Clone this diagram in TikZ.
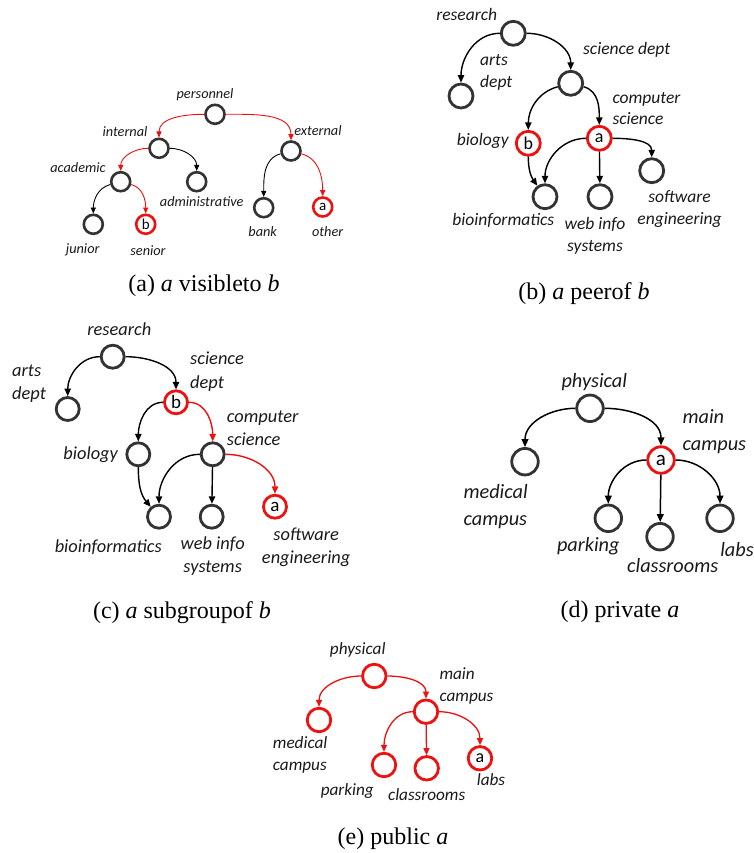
\documentclass[tikz,border=0pt]{standalone}
\usepackage{fontspec}
\setmainfont{Carlito}
\newfontfamily\capfont{Liberation Serif}
\usetikzlibrary{arrows.meta}
\definecolor{ink}{HTML}{333333}
\definecolor{txt}{HTML}{1A1A1A}
\definecolor{hot}{HTML}{EE1111}

\begin{document}
\begin{tikzpicture}[x=1pt,y=-1pt,
  vtx/.style={circle,draw=ink,line width=2.8pt,inner sep=0pt,text=black},
  hotv/.style={vtx,draw=hot},
  lbl/.style={text=txt,inner sep=0pt,align=center},
  arrowtip/.style={-{Triangle[length=#1,width=0.85*#1]}},
  captxt/.style={inner sep=0pt,font=\capfont\fontsize{24}{27}\selectfont},
  % per-panel sizes
  vA/.style={minimum size=19pt,line width=2.6pt,font=\fontsize{15}{17}\selectfont},
  vB/.style={minimum size=24pt,font=\fontsize{18}{20}\selectfont},
  vC/.style={minimum size=23pt,font=\fontsize{19}{21}\selectfont},
  vD/.style={minimum size=26.5pt,font=\fontsize{21}{23}\selectfont},
  vE/.style={minimum size=23.5pt,font=\fontsize{18}{20}\selectfont},
  lA/.style={lbl,font=\fontsize{14.3}{17}\selectfont\itshape},
  lB/.style={lbl,font=\fontsize{17.5}{21.5}\selectfont\itshape},
  lC/.style={lbl,font=\fontsize{18.4}{23.3}\selectfont\itshape},
  lD/.style={lbl,font=\fontsize{20.3}{26.5}\selectfont\itshape},
  lE/.style={lbl,font=\fontsize{17.2}{21.7}\selectfont\itshape},
  eA/.style={arrowtip=6pt,line width=0.9pt,draw=black},
  eB/.style={arrowtip=7.5pt,line width=1.4pt,draw=black},
  eD/.style={arrowtip=8pt,line width=1.5pt,draw=black},
  eE/.style={arrowtip=7pt,line width=1.3pt,draw=black},
  hotline/.style={draw=hot}
]
\useasboundingbox (0,0) rectangle (754,853);

% ---------- (a) visibleto ----------
\node[vtx,vA]  (aper)  at (215,114.3) {};
\node[vtx,vA]  (aint)  at (159,148.3) {};
\node[vtx,vA]  (aext)  at (291,151) {};
\node[vtx,vA]  (aacad) at (120.7,181.7) {};
\node[vtx,vA]  (aadm)  at (196.7,181.7) {};
\node[vtx,vA]  (ajun)  at (93.3,224.3) {};
\node[hotv,vA] (asen)  at (145.7,224.3) {b};
\node[vtx,vA]  (abank) at (263.7,207.7) {};
\node[hotv,vA] (aoth)  at (322.7,207) {a};
\node[lA] (laper)  at (205,95) {personnel};
\node[lA] (laint)  at (125,132) {internal};
\node[lA] (laext)  at (318,131) {external};
\node[lA] (laacad) at (78,168) {academic};
\node[lA] (laadm)  at (201.7,201.7) {administrative};
\node[lA] (lajun)  at (82.7,250) {junior};
\node[lA] (lasen)  at (148,250.7) {senior};
\node[lA] (labank) at (262.7,231.7) {bank};
\node[lA] (laoth)  at (327.7,231.7) {other};
\draw[eA,hotline] (aper) to[out=180,in=90] (aint);
\draw[eA,hotline] (aper) to[out=0,in=90] (aext);
\draw[eA,hotline] (aint) to[out=180,in=90] (aacad);
\draw[eA] (aint) to[out=0,in=90] (aadm);
\draw[eA] (aacad) to[out=195,in=90] (ajun);
\draw[eA,hotline] (aacad) to[out=-15,in=90] (asen);
\draw[eA] (aext) to[out=195,in=90] (abank);
\draw[eA,hotline] (aext) to[out=-15,in=90] (aoth);
\node[captxt] (capa) at (204,286) {(a) \textit{a} visibleto \textit{b}};

% ---------- (b) peerof ----------
\node[vtx,vB]  (bres)  at (513.3,33.3) {};
\node[vtx,vB]  (barts) at (461,96) {};
\node[vtx,vB]  (bsci)  at (570.7,83.3) {};
\node[hotv,vB] (bbio)  at (528.3,143.3) {b};
\node[hotv,vB] (bcs)   at (599.3,138.3) {a};
\node[vtx,vB]  (bbinf) at (545,196.7) {};
\node[vtx,vB]  (bweb)  at (600,196.7) {};
\node[vtx,vB]  (bsw)   at (651.7,170.7) {};
\node[lB] (lbres)  at (466.7,14) {research};
\node[lB,anchor=west,align=left] (lbarts) at (480,72.2) {arts\\dept};
\node[lB] (lbsci)  at (626.7,50) {science dept};
\node[lB] (lbbio)  at (482.7,141) {biology};
\node[lB,anchor=west,align=left] (lbcs) at (612.3,108.3) {computer\\science};
\node[lB] (lbbinf) at (503.3,220.7) {bioinformatics};
\node[lB] (lbweb)  at (595,236) {web info\\systems};
\node[lB] (lbsw)   at (679.5,209.2) {software\\engineering};
\draw[eB] (bres) to[out=180,in=90] (barts);
\draw[eB] (bres) to[out=0,in=90] (bsci);
\draw[eB] (bsci) to[out=195,in=90] (bbio);
\draw[eB] (bsci) to[out=-15,in=90] (bcs);
\draw[eB] (bbio) to[out=-90,in=125] (bbinf);
\draw[eB] (bcs) to[out=180,in=90] (bbinf);
\draw[eB] (bcs) -- (bweb);
\draw[eB] (bcs) to[out=0,in=90] (bsw);
\node[captxt] (capb) at (584,294) {(b) \textit{a} peerof \textit{b}};

% ---------- (c) subgroupof ----------
\node[vtx,vC]  (cres)  at (112.7,356.7) {};
\node[vtx,vC]  (carts) at (67.7,409) {};
\node[hotv,vC] (csci)  at (176,402.3) {b};
\node[vtx,vC]  (cbio)  at (138.3,454.3) {};
\node[vtx,vC]  (ccs)   at (212.7,454.3) {};
\node[vtx,vC]  (cbinf) at (159,516.7) {};
\node[vtx,vC]  (cweb)  at (211.7,516.7) {};
\node[hotv,vC] (csw)   at (275,506.7) {a};
\node[lC] (lcres)  at (119.3,329) {research};
\node[lC,anchor=west,align=left] (lcarts) at (12,383.7) {arts\\dept};
\node[lC,anchor=west,align=left] (lcsci)  at (190,371.7) {science\\dept};
\node[lC,anchor=west,align=left] (lccs)   at (226.7,428.3) {computer\\science};
\node[lC] (lcbio)  at (90.7,455) {biology};
\node[lC] (lcbinf) at (108.3,546.7) {bioinformatics};
\node[lC] (lcweb)  at (212.7,556) {web info\\systems};
\node[lC] (lcsw)   at (306.2,547.5) {software\\engineering};
\draw[eB] (cres) to[out=180,in=90] (carts);
\draw[eB] (cres) to[out=0,in=90] (csci);
\draw[eB] (csci) to[out=180,in=90] (cbio);
\draw[eB,hotline] (csci) to[out=0,in=90] (ccs);
\draw[eB] (cbio) to[out=-90,in=130] (cbinf);
\draw[eB] (ccs) to[out=180,in=90] (cbinf);
\draw[eB] (ccs) -- (cweb);
\draw[eB,hotline] (ccs) to[out=0,in=90] (csw);
\node[captxt] (capc) at (182,613) {(c) \textit{a} subgroupof \textit{b}};

% ---------- (d) private ----------
\node[vtx,vD]  (dphys) at (590,408.3) {};
\node[hotv,vD] (dmain) at (661,460) {a};
\node[vtx,vD]  (dmed)  at (525,461.7) {};
\node[vtx,vD]  (dpark) at (608.3,518.3) {};
\node[vtx,vD]  (dcls)  at (660,536.7) {};
\node[vtx,vD]  (dlabs) at (720,518.3) {};
\node[lD] (ldphys) at (594.3,381.7) {physical};
\node[lD,anchor=west,align=left] (ldmain) at (682.3,431.7) {main\\campus};
\node[lD,anchor=west,align=left] (ldmed)  at (463.3,506.7) {medical\\campus};
\node[lD] (ldpark) at (588.3,546) {parking};
\node[lD] (ldcls)  at (672.7,565.7) {classrooms};
\node[lD] (ldlabs) at (737,550) {labs};
\draw[eD] (dphys) to[out=180,in=90] (dmed);
\draw[eD] (dphys) to[out=0,in=90] (dmain);
\draw[eD] (dmain) to[out=180,in=90] (dpark);
\draw[eD] (dmain) -- (dcls);
\draw[eD] (dmain) to[out=0,in=90] (dlabs);
\node[captxt] (capd) at (620,612) {(d) private \textit{a}};

% ---------- (e) public ----------
\node[hotv,vE] (ephys) at (374.3,676) {};
\node[hotv,vE] (emain) at (426,711.7) {};
\node[hotv,vE] (emed)  at (319,720) {};
\node[hotv,vE] (epark) at (384,765) {};
\node[hotv,vE] (ecls)  at (426.7,768.3) {};
\node[hotv,vE] (elabs) at (480,758.3) {a};
\node[lE] (lephys) at (357.7,650) {physical};
\node[lE,anchor=west,align=left] (lemain) at (439.3,686) {main\\campus};
\node[lE,anchor=west,align=left] (lemed)  at (272.7,755) {medical\\campus};
\node[lE] (lepark) at (347.3,790.7) {parking};
\node[lE] (lecls)  at (426.7,795) {classrooms};
\node[lE] (lelabs) at (491,780) {labs};
\draw[eE,hotline] (ephys) to[out=180,in=90] (emed);
\draw[eE,hotline] (ephys) to[out=0,in=90] (emain);
\draw[eE,hotline] (emain) to[out=180,in=90] (epark);
\draw[eE,hotline] (emain) -- (ecls);
\draw[eE,hotline] (emain) to[out=0,in=90] (elabs);
\node[captxt] (cape) at (393,839) {(e) public \textit{a}};
\end{tikzpicture}
\end{document}
